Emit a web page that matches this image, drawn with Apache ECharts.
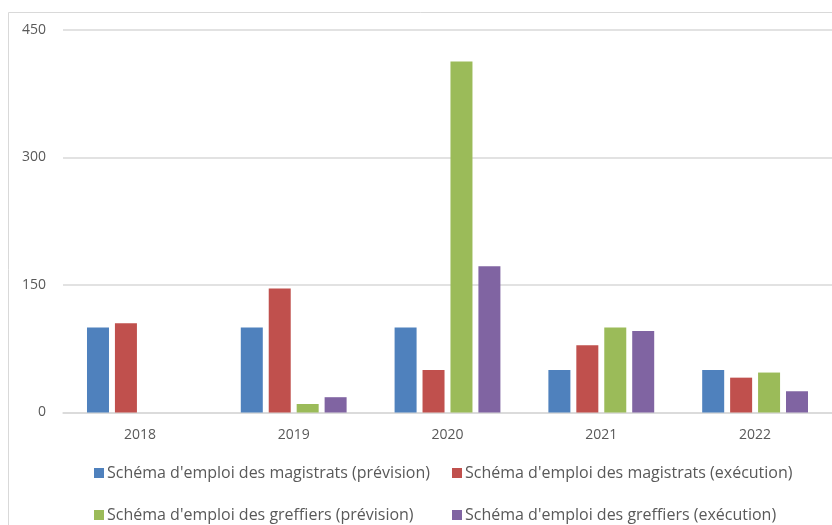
<!DOCTYPE html>
<html>
<head>
<meta charset="utf-8">
<script src="https://cdn.jsdelivr.net/npm/echarts@6/dist/echarts.min.js"></script>
<style>
  html, body { margin: 0; padding: 0; background: #fff; }
  #chart { width: 832px; height: 525px; }
</style>
</head>
<body>
<div id="chart"></div>
<script>
// données
const years = ['2018', '2019', '2020', '2021', '2022']
const magistratsPrevision = [100, 100, 100, 50, 50]
const magistratsExecution = [105, 146, 50, 79, 41]
const greffiersPrevision = [0, 10, 413, 100, 47]
const greffiersExecution = [-3, 18, 172, 96, 25]
const yTicks = [0, 150, 300, 450]

const seriesNames = [
  "Schéma d'emploi des magistrats (prévision)",
  "Schéma d'emploi des magistrats (exécution)",
  "Schéma d'emploi des greffiers (prévision)",
  "Schéma d'emploi des greffiers (exécution)"
]
const colors = ['#4F81BD', '#C0504D', '#9BBB59', '#8064A2']
const seriesData = [magistratsPrevision, magistratsExecution, greffiersPrevision, greffiersExecution]

const font = 'Open Sans'
const chart = echarts.init(document.getElementById('chart'))

// une légende par élément pour garder les colonnes alignées
const legendPos = [
  { left: 89, top: 460 },
  { left: 447, top: 460 },
  { left: 89, top: 502 },
  { left: 447, top: 502 }
]

const option = {
  animation: false,
  color: colors,
  graphic: [{
    type: 'rect',
    shape: { x: 8.5, y: 12.5, width: 900, height: 600 },
    style: { fill: 'none', stroke: '#d9d9d9', lineWidth: 1 },
    silent: true
  }],
  grid: { left: 63, top: 30, width: 773, bottom: 112.5 },
  legend: seriesNames.map((name, i) => ({
    data: [name],
    left: legendPos[i].left,
    top: legendPos[i].top,
    icon: 'rect',
    itemWidth: 10,
    itemHeight: 10,
    itemGap: 4,
    textStyle: { color: '#595959', fontSize: 16, fontFamily: font, padding: [0, 0, 0, -2] }
  })),
  xAxis: {
    type: 'category',
    data: years,
    axisLine: { lineStyle: { color: '#d9d9d9', width: 1.5 } },
    axisTick: { show: false },
    axisLabel: { color: '#595959', fontSize: 14, fontFamily: font, margin: 16 }
  },
  yAxis: {
    type: 'value',
    min: yTicks[0],
    max: yTicks[yTicks.length - 1],
    interval: 150,
    axisLine: { show: false },
    axisTick: { show: false },
    splitLine: { lineStyle: { color: '#d9d9d9', width: 1.5 } },
    axisLabel: { color: '#595959', fontSize: 14, fontFamily: font, margin: 17 }
  },
  series: seriesNames.map((name, i) => ({
    name: name,
    type: 'bar',
    data: seriesData[i],
    barWidth: 22,
    barGap: '27%',
    z: 3,
    itemStyle: { color: colors[i] }
  }))
}

chart.setOption(option)
</script>
</body>
</html>
